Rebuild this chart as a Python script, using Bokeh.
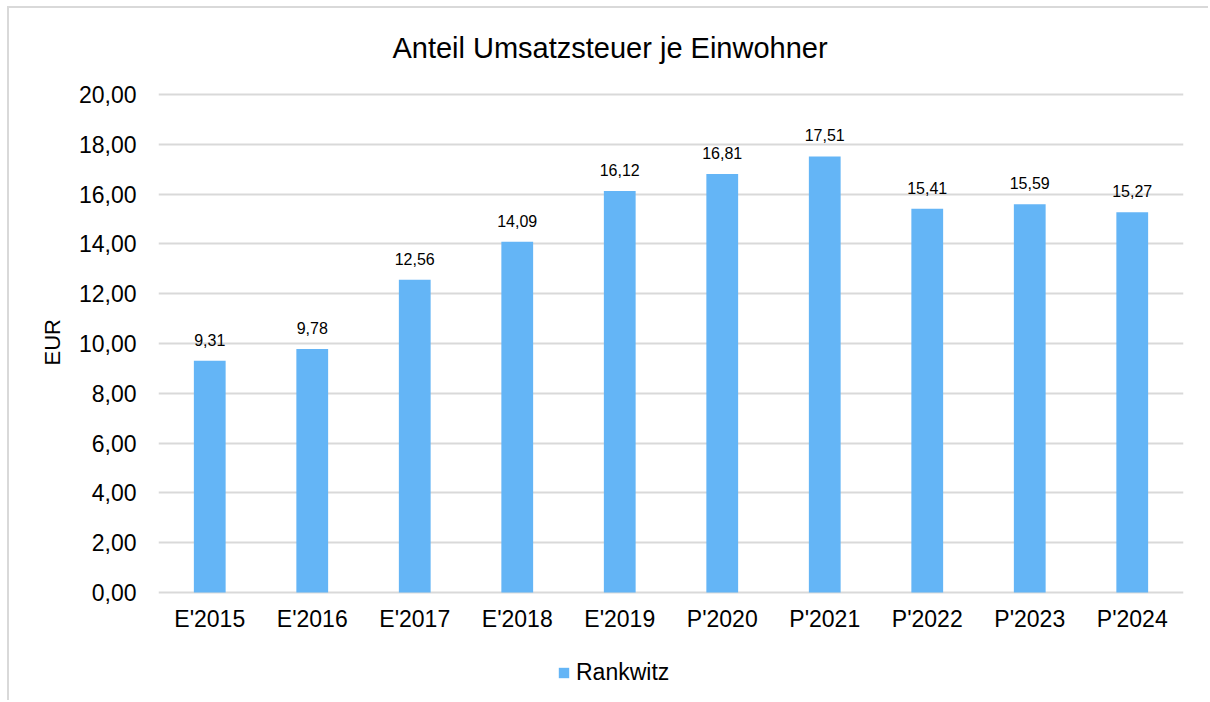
from bokeh.plotting import figure
from bokeh.models import (ColumnDataSource, LabelSet, Label, FixedTicker, Title,
                          CustomJSTickFormatter, Range1d, FactorRange, Legend, LegendItem)
from bokeh.core.properties import value
from bokeh.embed import file_html
from bokeh.resources import INLINE

categories = ["E'2015", "E'2016", "E'2017", "E'2018", "E'2019",
              "P'2020", "P'2021", "P'2022", "P'2023", "P'2024"]
values = [9.31, 9.78, 12.56, 14.09, 16.12, 16.81, 17.51, 15.41, 15.59, 15.27]
y_ticks = [0, 2, 4, 6, 8, 10, 12, 14, 16, 18, 20]
series_name = "Rankwitz"
title_text = "Anteil Umsatzsteuer je Einwohner"
y_label = "EUR"

FONT = "Liberation Sans"
BAR = "#64B5F6"
GRID = "#d9d9d9"
TXT = "#000000"

labels = [f"{v:.2f}".replace(".", ",") for v in values]
src = ColumnDataSource(dict(cat=categories, val=values, lab=labels))
base = ColumnDataSource(dict(cat=categories, zero=[0] * len(categories)))

# the frame spans the whole canvas height so title, category labels and
# legend can all be placed inside it
p = figure(width=1201, height=694, output_backend="svg", toolbar_location=None,
           title=None,
           x_range=FactorRange(*categories, range_padding=0),
           y_range=Range1d(-4.42, 23.454), x_axis_location=None,
           min_border_left=149, min_border_right=27, min_border_top=0,
           min_border_bottom=0,
           styles={"border-left": "2px solid #d9d9d9", "border-top": "2px solid #d9d9d9",
                   "margin-left": "7px", "margin-top": "6px"})

r = p.vbar(x="cat", top="val", width=0.31, source=src, fill_color=BAR, line_color=None)

p.outline_line_color = None
p.xgrid.grid_line_color = None
p.ygrid.grid_line_color = GRID
p.ygrid.grid_line_width = 2
p.yaxis.ticker = FixedTicker(ticks=y_ticks)
p.yaxis.formatter = CustomJSTickFormatter(code="return tick.toFixed(2).replace('.', ',');")
p.yaxis.axis_line_color = None
p.yaxis.major_tick_line_color = None
p.yaxis.minor_tick_line_color = None
p.yaxis.major_tick_out = 0
p.yaxis.major_tick_in = 0
p.yaxis.major_label_standoff = 22
p.yaxis.major_label_text_font = FONT
p.yaxis.major_label_text_font_size = "23px"
p.yaxis.major_label_text_color = TXT

ytitle = Title(text=y_label, align="left", offset=337, standoff=21,
               text_font=FONT, text_font_size="22px", text_font_style="normal",
               text_color=TXT)
p.add_layout(ytitle, "left")

title_lbl = Label(x=4.405, y=21.85, text=title_text, text_align="center",
                  text_baseline="alphabetic", text_font=FONT, text_font_size="29px",
                  text_color=TXT)
p.add_layout(title_lbl)

cat_labels = LabelSet(x="cat", y="zero", text="cat", source=base, text_align="center",
                      text_baseline="top", y_offset=-14, text_font=value(FONT),
                      text_font_size=value("23px"), text_color=TXT)
p.add_layout(cat_labels)

ls = LabelSet(x="cat", y="val", text="lab", source=src, text_align="center",
              text_baseline="bottom", y_offset=15, text_font=value(FONT),
              text_font_size=value("16px"), text_color=TXT)
p.add_layout(ls)

legend = Legend(items=[LegendItem(label=series_name, renderers=[r])],
                location=(399, 16), orientation="horizontal",
                border_line_color=None, background_fill_alpha=0,
                padding=0, margin=0, glyph_width=13, glyph_height=13,
                label_text_font=FONT, label_text_font_size="23px",
                label_text_color=TXT, label_standoff=6, label_height=20)
p.add_layout(legend, "center")

open("out.html", "w").write(file_html(p, INLINE))
